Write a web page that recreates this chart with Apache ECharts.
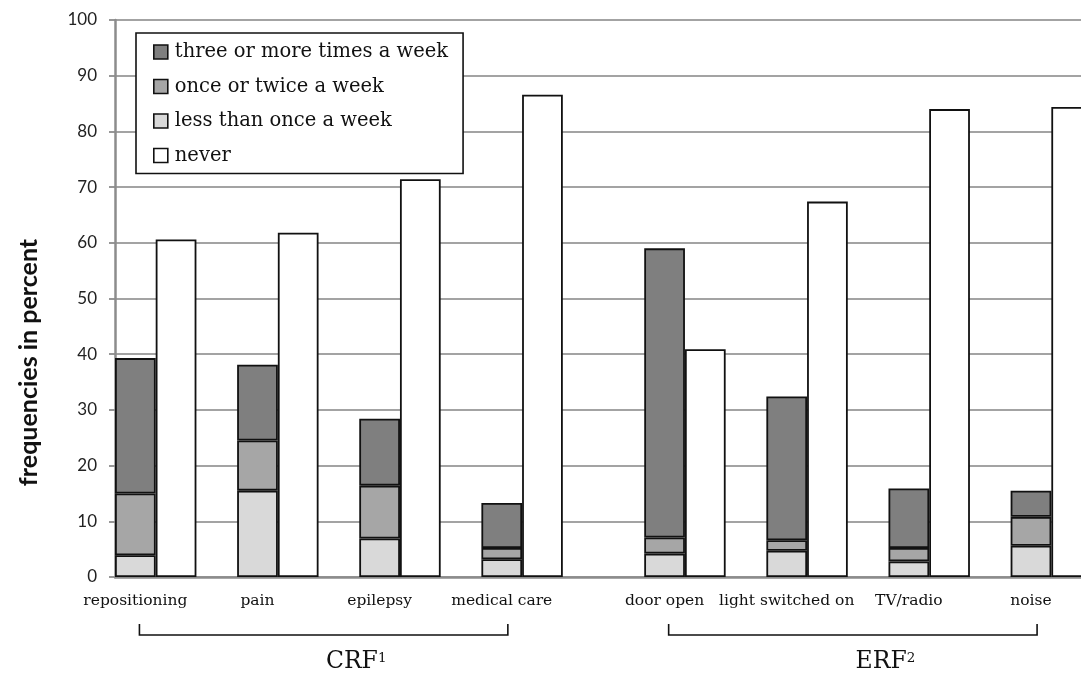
<!DOCTYPE html>
<html><head><meta charset="utf-8">
<script src="https://cdn.jsdelivr.net/npm/echarts@6/dist/echarts.min.js"></script>
<style>html,body{margin:0;padding:0;background:#fff}#c{width:1081px;height:677px}</style>
</head><body><div id="c"></div>
<script>
// ---- data ----
const categories = ['repositioning', 'pain', 'epilepsy', 'medical care', 'door open', 'light switched on', 'TV/radio', 'noise'];
const lessThanOnce = [3.9, 15.5, 6.9, 3.2, 4.2, 4.7, 2.8, 5.6];
const onceOrTwice  = [11.1, 9.0, 9.5, 2.0, 2.9, 1.9, 2.4, 5.2];
const threeOrMore  = [24.3, 13.6, 12.0, 8.1, 51.9, 25.8, 10.7, 4.7];
const never        = [60.6, 61.8, 71.4, 86.6, 40.9, 67.4, 84.0, 84.4];
const seriesNames  = ['three or more times a week', 'once or twice a week', 'less than once a week', 'never'];
const yMin = 0, yMax = 100, yInterval = 10;
const groups = [
  { name: 'CRF', sup: '1', members: [0, 1, 2, 3] },
  { name: 'ERF', sup: '2', members: [4, 5, 6, 7] }
];

// ---- slot layout: each category = [stacked bar, never bar, gap]; extra gap between groups ----
const slotLabels = [], stackSlot = [], neverSlot = [];
groups.forEach((g, gi) => {
  if (gi > 0) slotLabels.push('');
  g.members.forEach(ci => {
    stackSlot[ci] = slotLabels.length; slotLabels.push(categories[ci]);
    neverSlot[ci] = slotLabels.length; slotLabels.push('');
    slotLabels.push('');
  });
});
const N = slotLabels.length;
const slotIds = slotLabels.map((_, i) => 's' + i);
function column(values, slots) {
  const arr = new Array(N).fill('-');
  values.forEach((v, i) => { arr[slots[i]] = v; });
  return arr;
}

const SERIF = 'DejaVu Serif';
const chart = echarts.init(document.getElementById('c'), null, { renderer: 'canvas' });
const border = { borderColor: '#111', borderWidth: 1.8 };
const barBase = { type: 'bar', stack: 'all', barCategoryGap: '0%', barGap: '0%', emphasis: { disabled: true } };
const slotWidth = 40.71;

chart.setOption({
  animation: false,
  backgroundColor: '#fff',
  textStyle: { fontFamily: SERIF },
  grid: { left: 115, top: 20, bottom: 100, right: 1081 - 115 - N * slotWidth, containLabel: false, outerBoundsMode: 'none' },
  legend: {
    data: seriesNames,
    orient: 'vertical', left: 136, top: 33,
    padding: [9, 15, 8, 17], itemGap: 14.5,
    itemWidth: 14, itemHeight: 14, icon: 'rect',
    backgroundColor: '#fff', borderColor: '#111', borderWidth: 1.6, borderRadius: 0,
    itemStyle: { borderColor: '#111', borderWidth: 1.6 },
    textStyle: { fontFamily: SERIF, fontSize: 19.5, color: '#111', lineHeight: 20, padding: [0, 0, 0, 2] },
    selectedMode: false
  },
  xAxis: {
    type: 'category', data: slotIds,
    axisLine: { lineStyle: { color: '#8c8c8c', width: 2.5 } },
    axisTick: { show: false },
    axisLabel: { interval: 0, formatter: (v, i) => slotLabels[i], fontFamily: SERIF, fontSize: 15.5, color: '#111', margin: 16 },
    splitLine: { show: false }
  },
  yAxis: {
    type: 'value', min: yMin, max: yMax, interval: yInterval,
    axisLine: { show: true, lineStyle: { color: '#8c8c8c', width: 2.5 } },
    axisTick: { show: true, length: 6, lineStyle: { color: '#8c8c8c', width: 1.8 } },
    axisLabel: { margin: 18, fontFamily: 'Lato', fontSize: 17, color: '#222' },
    splitLine: { lineStyle: { color: '#a3a3a3', width: 1.8 } },
    name: 'frequencies in percent', nameLocation: 'middle', nameGap: 74,
    nameTextStyle: { fontFamily: 'Lato', fontWeight: 'bold', fontSize: 25, color: '#111', padding: [0, 128, 0, 0] }
  },
  series: [
    Object.assign({}, barBase, { name: seriesNames[2], data: column(lessThanOnce, stackSlot), itemStyle: Object.assign({ color: '#d9d9d9' }, border) }),
    Object.assign({}, barBase, { name: seriesNames[1], data: column(onceOrTwice, stackSlot), itemStyle: Object.assign({ color: '#a6a6a6' }, border) }),
    Object.assign({}, barBase, { name: seriesNames[0], data: column(threeOrMore, stackSlot), itemStyle: Object.assign({ color: '#7f7f7f' }, border) }),
    Object.assign({}, barBase, { name: seriesNames[3], data: column(never, neverSlot), itemStyle: Object.assign({ color: '#ffffff' }, border) })
  ]
});

// ---- group brackets and labels, placed from the axis scale ----
const px = s => chart.convertToPixel({ gridIndex: 0 }, [s, 0]);
const sw = px(1)[0] - px(0)[0];
const y0 = px(0)[1];
const elements = [];
groups.forEach(g => {
  const x1 = px(stackSlot[g.members[0]])[0] + 0.1 * sw;
  const x2 = px(stackSlot[g.members[g.members.length - 1]])[0] + 0.15 * sw;
  elements.push({
    type: 'polyline', silent: true,
    shape: { points: [[x1, y0 + 47], [x1, y0 + 58], [x2, y0 + 58], [x2, y0 + 47]] },
    style: { stroke: '#111', lineWidth: 1.6, fill: null }
  });
  elements.push({
    type: 'text', silent: true,
    style: {
      text: '{m|' + g.name + '}{s|' + g.sup + '}',
      x: (x1 + x2) / 2 + 0.8 * sw, y: y0 + 85,
      align: 'center', verticalAlign: 'middle',
      rich: {
        m: { fontFamily: SERIF, fontSize: 23.5, lineHeight: 22, fill: '#111' },
        s: { fontFamily: SERIF, fontSize: 13.5, lineHeight: 13.5, verticalAlign: 'top', fill: '#111' }
      }
    }
  });
});
chart.setOption({ graphic: { elements: elements } });
</script>
</body></html>
